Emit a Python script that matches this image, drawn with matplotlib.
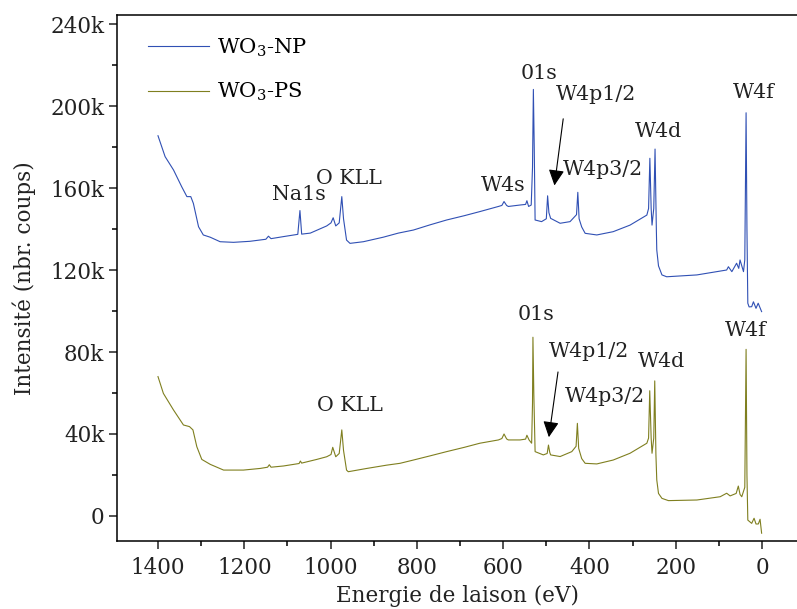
import numpy as np
import matplotlib
matplotlib.use('Agg')
import matplotlib.pyplot as plt
from matplotlib.ticker import MultipleLocator, FuncFormatter

# Spectre XPS WO3-NP (energie en eV, intensite en milliers de coups)
np_energy = [1400, 1383.5, 1364, 1345, 1333, 1324, 1318, 1306, 1295, 1279, 1256, 1225, 1187,
             1150, 1144, 1138, 1109, 1076, 1071, 1067, 1047, 1009, 999, 994, 988, 980, 974,
             970, 963, 955, 924, 878, 843, 808, 770, 731, 690, 654, 611, 603, 598, 592, 588,
             561, 548, 545, 541, 535, 532, 530, 528, 526, 511, 500, 497, 494, 490, 468, 445,
             430, 427, 424, 418, 410, 383, 345, 306, 267, 263, 260, 257, 255, 251, 248, 245,
             244, 240, 232, 221, 151, 82, 78, 70, 59, 54, 51, 43, 40, 37, 35, 33, 30, 24, 20,
             14, 9, 1]
np_counts = [185.5, 175.3, 168.8, 160.6, 155.8, 155.8, 152.5, 141.1, 137.1, 136, 133.8, 133.5, 134,
             135, 136.5, 135.3, 136.3, 137.4, 149, 137.5, 138, 141.5, 143, 145.5, 141.5, 143, 155.8,
             145, 134.6, 133, 133.8, 136, 138, 139.5, 142, 144.4, 146.5, 148.5, 151, 151.5, 153.4, 151.5, 151,
             151.7, 152, 153.8, 151, 151.7, 170, 208.1, 180, 144.4, 143.6, 145, 156.2, 148, 145.2, 142.8, 143.6,
             147, 157.9, 145, 141, 137.9, 137.1, 138.7, 141.9, 146.8, 150, 174.5, 150, 141.9, 150, 179, 140,
             129.8, 122, 117.6, 116.7, 117.6, 120, 121.6, 119.2, 123.3, 120.8, 124.9, 119.2, 125, 196.7, 140, 103.8, 102, 102.1, 104.5,
             101.3, 103.8, 99.7]

# Spectre XPS WO3-PS
ps_energy = [1400, 1387.5, 1364, 1341, 1327, 1319, 1310, 1298.5, 1279, 1248, 1202, 1163, 1146,
             1142, 1138, 1109, 1073, 1070, 1067, 1032, 1009, 999, 995, 988, 980, 974, 970,
             963, 959, 916, 870, 839, 808, 770, 731, 690, 654, 611, 603, 598, 592, 588, 561,
             548, 545, 540, 534, 532, 531, 529, 526, 507, 498, 495, 492, 490, 468, 441, 431,
             428, 425, 418, 410, 383, 345, 306, 267, 263, 260.3, 257, 255, 251, 248.7, 246,
             244, 240, 232, 217, 151, 97, 82, 74, 60, 55, 51, 47, 40, 37, 35, 33, 24, 18.5,
             14, 8.6, 4.6, 1]
ps_counts = [68, 59.8, 51.7, 44.4, 43.6, 42, 33.8, 27.6, 25.2, 22.4, 22.4, 23.2, 23.8,
             25, 23.8, 24.4, 25.6, 26.8, 25.8, 27.6, 28.9, 30, 33.5, 28.9, 30.5, 42, 32,
             22.4, 21.6, 23.2, 24.8, 25.7, 27.3, 29.3, 31.4, 33.5, 35.5, 37.1, 37.8, 40, 37.6, 37.1, 37.1,
             37.5, 39.4, 37.1, 35.5, 55, 87.2, 60, 31.4, 29.8, 30.5, 34.6, 31, 29.8, 29, 31.4, 34,
             45.2, 33, 28, 25.7, 25.4, 27.3, 30.6, 35.5, 38, 61.1, 38, 30.6, 38, 65.9, 30,
             17.6, 11, 8.6, 7.5, 7.8, 9.4, 11.1, 9.8, 11, 14.6, 10.5, 9.4, 14, 81.3, 20, -2, -3.6, -1.1,
             -3.9, -3.9, -1.6, -8.4]

# etiquettes des pics : (texte, energie, intensite)
labels_np = [('Na1s', 1073, 157), ('O KLL', 957, 164.4), ('W4s', 601, 161), ('01s', 517, 216),
             ('W4p1/2', 386, 205.8), ('W4p3/2', 368, 168.8), ('W4d', 240, 187.8), ('W4f', 20, 206.6)]
labels_ps = [('O KLL', 955, 53.8), ('01s', 523, 98.5), ('W4p1/2', 400, 80.3),
             ('W4p3/2', 363, 58.2), ('W4d', 234, 75.3), ('W4f', 37.5, 90.6)]
# fleches W4p1/2 : (debut, pointe)
arrows = [((460, 195.1), (482, 159.9)), ((472, 71.6), (495, 37.1))]

plt.rcParams['font.family'] = ['DejaVu Serif']
plt.rcParams['mathtext.fontset'] = 'dejavuserif'

fig = plt.figure(figsize=(7.97, 6.09), dpi=100)
ax = fig.add_axes([117 / 797, 68 / 609, 1.0 - 117 / 797, 526 / 609])

ax.plot(np_energy, np_counts, color='#3050b4', lw=0.8, label='WO$_3$-NP')
ax.plot(ps_energy, ps_counts, color='#7f7f1f', lw=0.8, label='WO$_3$-PS')

for txt, e, c in labels_np + labels_ps:
    ax.text(e, c, txt, ha='center', va='center', fontsize=14.8, color='#222222')

for start, tip in arrows:
    ax.annotate('', xy=tip, xytext=start,
                arrowprops=dict(arrowstyle='-|>', color='black', lw=0.8, mutation_scale=24))

ax.set_xlim(1495, -81)
ax.set_ylim(-12.2, 244.4)
ax.xaxis.set_major_locator(MultipleLocator(200))
ax.xaxis.set_minor_locator(MultipleLocator(100))
ax.yaxis.set_major_locator(MultipleLocator(40))
ax.yaxis.set_minor_locator(MultipleLocator(20))
ax.yaxis.set_major_formatter(FuncFormatter(lambda v, p: '0' if v == 0 else f'{v:g}k'))

ax.spines['right'].set_visible(False)
for s in ['left', 'bottom', 'top']:
    ax.spines[s].set_linewidth(1.1)
ax.tick_params(which='major', length=5.5, width=1.1, labelsize=15.5, colors='#222222')
ax.tick_params(which='minor', length=3.5, width=1.1)
ax.tick_params(axis='x', which='major', pad=6)

ax.set_xlabel('Energie de laison (eV)', fontsize=15.5, labelpad=4, color='#222222')
ax.set_ylabel('Intensité (nbr. coups)', fontsize=15.5, labelpad=10, color='#222222')

ax.legend(loc='upper left', frameon=False, fontsize=15.2, handlelength=2.9,
          bbox_to_anchor=(0.018, 0.995), labelspacing=1.05, handletextpad=0.35)

fig.savefig('out.png', dpi=100)
